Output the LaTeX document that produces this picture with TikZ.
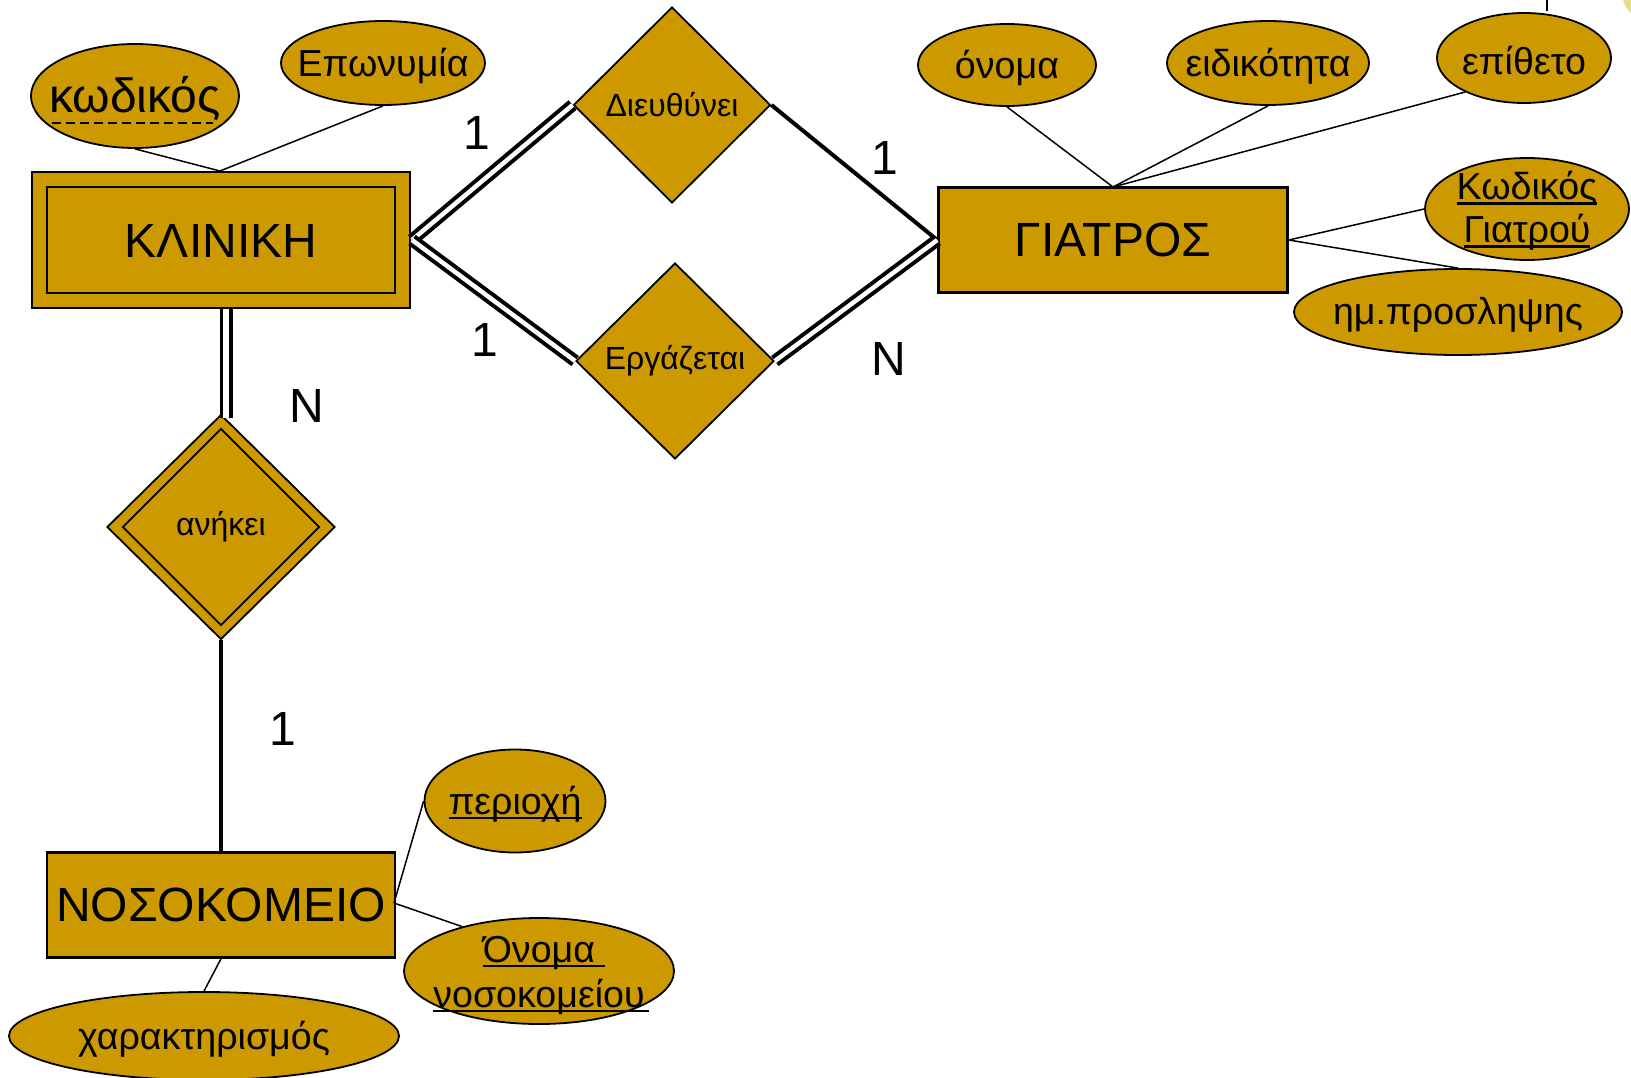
\documentclass[tikz,border=0pt]{standalone}
\usepackage{fontspec}
\setmainfont{Liberation Sans}
\usetikzlibrary{shapes.geometric}
\definecolor{gold}{RGB}{204,153,0}
\definecolor{paleyellow}{RGB}{226,224,140}
% underline drawn as a solid bar, optionally wider than the word
\newcommand\keybar[2][0pt]{\setbox0\hbox{#2}\rlap{\rule[-5pt]{\dimexpr\wd0+#1\relax}{2.4pt}}\box0}
\begin{document}
\begin{tikzpicture}[x=1pt,y=-1pt,
  entity/.style={draw,line width=2.5pt,fill=gold,rectangle,inner sep=0pt,font=\fontsize{48}{50}\selectfont},
  attr/.style={draw,line width=1.8pt,fill=gold,ellipse,inner sep=0pt},
  attrtext/.style={font=\fontsize{37.6}{43}\selectfont,align=center,yshift=-3pt},
  rel/.style={draw,line width=1.8pt,fill=gold,diamond,inner sep=0pt,font=\fontsize{32}{34}\selectfont},
  link/.style={line width=1.5pt},
  single/.style={line width=4pt},
  twin/.style={double,double distance=4.5pt,line width=4pt},
  card/.style={font=\fontsize{48}{50}\selectfont}]
\useasboundingbox (0,0) rectangle (1631,1078);
\begin{scope}
\clip (0,0) rectangle (1631,1078);
\fill[paleyellow] (1652,-8) circle (30);
\end{scope}

% entities
\node[entity,minimum width=378pt,minimum height=136pt] (klin) at (221,240) {};
\draw[line width=2pt] (47,187) rectangle (395,293);
\node[font=\fontsize{48}{50}\selectfont] (klintxt) at (221,241) {ΚΛΙΝΙΚΗ};
\node[entity,minimum width=349pt,minimum height=105pt] (giat) at (1113,240) {ΓΙΑΤΡΟΣ};
\node[entity,minimum width=348pt,minimum height=105pt] (nos) at (221,905) {ΝΟΣΟΚΟΜΕΙΟ};

% relationships
\node[rel,minimum width=197pt,minimum height=196pt] (dieu) at (672,105) {Διευθύνει};
\node[rel,minimum width=198pt,minimum height=196pt] (erg) at (675,361) {Εργάζεται};
\node[rel,minimum width=228pt,minimum height=225pt] (anik) at (221,527) {};
\node[rel,minimum width=197pt,minimum height=197pt,fill=none] (anikin) at (221,527) {ανήκει};

% attributes
\node[attr,minimum width=208pt,minimum height=104pt,
  label={[attrtext,font=\fontsize{48}{50}\selectfont]center:κωδικός}] (kod) at (135,96) {};
\draw[line width=1.5pt,dash pattern=on 9pt off 5pt] (52,123) -- (213,123);
\node[attr,minimum width=204pt,minimum height=84pt,label={[attrtext]center:Επωνυμία}] (epon) at (383,63) {};
\node[attr,minimum width=178pt,minimum height=82pt,label={[attrtext]center:όνομα}] (onom) at (1007,65) {};
\node[attr,minimum width=202pt,minimum height=84pt,label={[attrtext]center:ειδικότητα}] (eid) at (1268,63) {};
\node[attr,minimum width=174pt,minimum height=90pt,label={[attrtext]center:επίθετο}] (epi) at (1524,58) {};
\node[attr,minimum width=204pt,minimum height=102pt,
  label={[attrtext,yshift=1pt]center:\keybar{Κωδικός}\\\keybar{Γιατρού}}] (kg) at (1527,209) {};
\node[attr,minimum width=328pt,minimum height=86pt,label={[attrtext]center:ημ.προσληψης}] (imp) at (1458,312) {};
\node[attr,minimum width=181pt,minimum height=103pt,label={[attrtext]center:\keybar{περιοχή}}] (per) at (515,801) {};
\node[attr,minimum width=270pt,minimum height=106pt,
  label={[attrtext,font=\fontsize{37.6}{45}\selectfont,yshift=-1pt]center:\keybar[10pt]{Όνομα}\\\keybar[4pt]{νοσοκομείου}}] (onn) at (539,971) {};
\node[attr,minimum width=390pt,minimum height=88pt,label={[attrtext]center:χαρακτηρισμός}] (char) at (204,1036) {};

% attribute links
\coordinate (klintop) at (220,171);
\draw[link] (kod.south) -- (klintop);
\draw[link] (epon.south) -- (klintop);
\coordinate (giattop) at (1113,187);
\draw[link] (onom.south) -- (giattop);
\draw[link] (eid.south) -- (giattop);
\draw[link] (epi.210) -- (giattop);
\draw[link] (giat.east) -- (kg.west);
\draw[link] (giat.east) -- (imp.north);
\coordinate (episup) at (1547,0);
\draw[link] (epi.north) ++(23,-1) -- (episup);
\coordinate (nosr) at (394,903);
\draw[link] (nosr) -- (per.west);
\draw[link] (nosr) -- (onn.150);
\draw[link] (nos.south) -- (char.north);

% relationship links
\coordinate (klinr) at (412,240);
\draw[twin] (klinr) -- (dieu.west);
\draw[twin] (klinr) -- (erg.west);
\draw[single] (dieu.east) -- (giat.west);
\draw[twin] (erg.east) -- (giat.west);
\draw[twin,line width=3.5pt,double distance=6pt] ([xshift=5pt]klin.south) -- ([xshift=5pt,yshift=-4pt]anik.north);
\draw[single] (anik.south) -- (nos.north);

% cardinalities
\node[card] (c1) at (477,133) {1};
\node[card] (c2) at (885,158) {1};
\node[card] (c3) at (485,340) {1};
\node[card] (c4) at (889,359) {N};
\node[card] (c5) at (307,406) {N};
\node[card] (c6) at (283,729) {1};
\end{tikzpicture}
\end{document}
